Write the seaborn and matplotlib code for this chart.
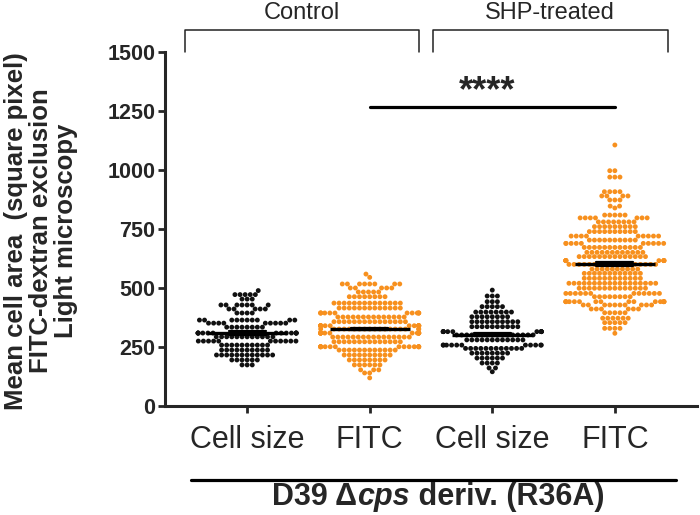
import matplotlib
matplotlib.use("Agg")
import matplotlib.pyplot as plt
import numpy as np
import pandas as pd
import seaborn as sns

groups = ["ctrl_size", "ctrl_fitc", "shp_size", "shp_fitc"]
tick_labels = ["Cell size", "FITC", "Cell size", "FITC"]

# swarm rows: value of each row and how many dots sit in it
ctrl_size_levels = [489, 472, 453, 428, 411, 394, 364, 351, 334, 309, 293, 275, 258, 237, 216, 195, 174]
ctrl_size_counts = [1, 5, 3, 7, 5, 4, 10, 9, 8, 15, 12, 11, 10, 10, 12, 6, 3]

ctrl_fitc_levels = [559, 545, 517, 500, 483, 463, 436, 415, 394, 377, 357, 340, 326, 309, 292, 272,
                    251, 237, 216, 195, 174, 153, 140, 119]
ctrl_fitc_counts = [1, 1, 8, 5, 5, 8, 14, 13, 12, 14, 15, 16, 18, 17, 16, 14, 16, 12, 10, 8, 6, 3, 2, 1]

shp_size_levels = [491, 466, 442, 421, 398, 378, 357, 336, 315, 301, 280, 258, 244, 224, 203, 182, 161, 145]
shp_size_counts = [1, 3, 3, 5, 8, 8, 10, 10, 12, 16, 12, 11, 12, 8, 6, 4, 2, 1]

shp_fitc_levels = [1106, 997, 970, 908, 890, 873, 847, 839, 809, 797, 780, 760, 739, 720, 703, 689, 672,
                   651, 633, 616, 600, 580, 562, 541, 520, 499, 477, 463, 442, 428, 411, 395, 372, 353,
                   329, 308]
shp_fitc_counts = [1, 2, 3, 4, 4, 3, 2, 1, 5, 7, 8, 9, 10, 9, 10, 10, 12, 12, 14, 10, 18, 10, 12, 12, 18,
                   14, 12, 8, 16, 10, 6, 5, 6, 5, 4, 1]

BLACK = "#111111"
ORANGE = "#F7901E"
palette = [BLACK, ORANGE, BLACK, ORANGE]

rows = [
    (ctrl_size_levels, ctrl_size_counts),
    (ctrl_fitc_levels, ctrl_fitc_counts),
    (shp_size_levels, shp_size_counts),
    (shp_fitc_levels, shp_fitc_counts),
]
frames = []
for name, (levels, counts) in zip(groups, rows):
    vals = np.repeat(levels, counts)
    frames.append(pd.DataFrame({"group": name, "value": vals}))
df = pd.concat(frames, ignore_index=True)

sns.set_style("ticks")
plt.rcParams["font.family"] = ["Liberation Sans", "DejaVu Sans"]

fig = plt.figure(figsize=(7, 5.15), dpi=100)
ax = fig.add_axes([0.2357, 0.2117, 0.76, 0.6873])

sns.swarmplot(data=df, x="group", y="value", hue="group", order=groups, hue_order=groups,
              palette=palette, size=3.5, linewidth=0, legend=False, ax=ax)

n_before = len(ax.lines)
sns.pointplot(data=df, x="group", y="value", order=groups, estimator="median", errorbar="se",
              color="black", linestyle="none", marker="_", markersize=57, markeredgewidth=2.4,
              capsize=0.3, err_kws={"linewidth": 1.6}, ax=ax)
for ln in ax.lines[n_before:]:
    ln.set_zorder(5)

ax.set_xlim(-0.67, 3.67)
ax.set_ylim(0, 1500)
ax.set_yticks([0, 250, 500, 750, 1000, 1250, 1500])
ax.set_xticks(range(4))
ax.set_xticklabels(tick_labels, fontsize=22)
ax.set_xlabel("")
ax.set_ylabel("")
for lab in ax.get_yticklabels():
    lab.set_fontsize(15.5)
    lab.set_fontweight("bold")
ax.tick_params(axis="y", length=5, width=2, pad=2)
ax.tick_params(axis="x", length=5, width=2, pad=9)
sns.despine(ax=ax)
for side in ["left", "bottom"]:
    ax.spines[side].set_linewidth(2.2)

# brackets over the two conditions
for x0, x1, label in [(-0.51, 1.40, "Control"), (1.516, 3.43, "SHP-treated")]:
    ax.plot([x0, x0, x1, x1], [1500, 1593, 1593, 1500], color="#222222", lw=1.1, clip_on=False)
    ax.text((x0 + x1) / 2, 1665, label, ha="center", va="center", fontsize=17)

# significance bar
ax.plot([1, 3], [1268, 1268], color="black", lw=2.3, clip_on=False)
ax.text(1.96, 1330, "****", ha="center", va="center", fontsize=26, fontweight="bold")

# strain bar under the tick labels
ax.plot([-0.46, 3.50], [-314, -314], color="black", lw=2.3, clip_on=False)
t1 = fig.text(272 / 700, 1 - 497 / 515, "D39 \u0394", fontsize=22, fontweight="bold",
              ha="left", va="center")
t2 = ax.annotate("cps", xy=(1, 0), xycoords=t1, ha="left", va="bottom",
                 fontsize=22, fontweight="bold", fontstyle="italic")
ax.annotate(" deriv. (R36A)", xy=(1, 0), xycoords=t2, ha="left", va="bottom",
            fontsize=22, fontweight="bold")

fig.text(41 / 700, 1 - 231 / 515,
         "Mean cell area  (square pixel)\nFITC-dextran exclusion\nLight microscopy",
         rotation=90, ha="center", va="center", multialignment="center",
         fontsize=18.5, fontweight="bold", linespacing=1.05)

fig.savefig("out.png", dpi=100)
